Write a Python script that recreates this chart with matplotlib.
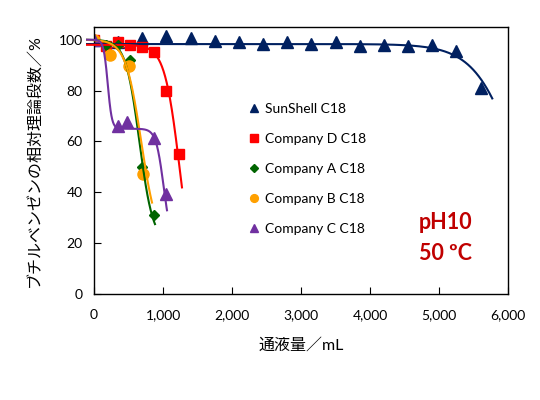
import matplotlib.pyplot as plt
import numpy as np
from matplotlib.ticker import FuncFormatter

plt.rcParams['font.family'] = ['Lato', 'Noto Sans CJK JP', 'DejaVu Sans']

# measured points (mL, % relative plate number)
sun_x = [0, 350, 700, 1050, 1400, 1750, 2100, 2450, 2800, 3150, 3500, 3850, 4200, 4550, 4900, 5250, 5600]
sun_y = [100, 99, 100.5, 101.5, 100.5, 99.5, 99, 98.5, 99, 98.5, 99, 97.5, 98, 97.5, 98, 95.5, 81]
d_x = [0, 175, 350, 525, 700, 875, 1050, 1225]
d_y = [100, 97.5, 99, 98, 97, 95, 80, 55]
a_x = [0, 175, 350, 525, 700, 875]
a_y = [100, 98, 98, 92, 50, 31]
b_x = [0, 230, 510, 710]
b_y = [100, 94, 89.5, 47]
c_x = [0, 350, 480, 870, 1050]
c_y = [100, 66, 67.5, 61.5, 39.5]

# fitted trend curves: (x start, x end, bottom, [(height, center, width), ...])
sun_fit = (-100, 5770, 0, [(98.3, 6168, 311)])
d_fit = (-100, 1275, 0, [(98, 1243, 110)])
a_fit = (-100, 884, 20, [(80, 658, 99.5)])
b_fit = (-100, 841, 20, [(80, 684, 113)])
c_fit = (-100, 1058, 20, [(35, 200, 30), (45, 1008, 55)])


def trend(fit):
    x0, x1, base, steps = fit
    x = np.linspace(x0, x1, 300)
    y = np.full_like(x, base, dtype=float)
    for h, c, w in steps:
        y += h / (1 + np.exp((x - c) / w))
    return x, y


series = [
    ("SunShell C18", sun_x, sun_y, sun_fit, "#002060", "^", 9),
    ("Company D C18", d_x, d_y, d_fit, "#FF0000", "s", 7.5),
    ("Company A C18", a_x, a_y, a_fit, "#006400", "D", 5.5),
    ("Company B C18", b_x, b_y, b_fit, "#FFA000", "o", 8),
    ("Company C C18", c_x, c_y, c_fit, "#7030A0", "^", 9),
]

fig = plt.figure(figsize=(5.4, 4), dpi=100)
ax = fig.add_axes([0.174, 0.265, 0.767, 0.6675])

for name, x, y, fit, col, mk, ms in series:
    ax.plot(x, y, linestyle="none", marker=mk, color=col, markersize=ms, label=name, zorder=2)
for name, x, y, fit, col, mk, ms in series:
    fx, fy = trend(fit)
    ax.plot(fx, fy, color=col, lw=1.5, zorder=3, clip_on=False)

ax.set_xlim(0, 6000)
ax.set_ylim(0, 105)
ax.set_xticks(np.arange(0, 6001, 1000))
ax.set_yticks(np.arange(0, 101, 20))
ax.xaxis.set_major_formatter(FuncFormatter(lambda v, p: f"{v:,.0f}"))
ax.tick_params(axis="x", direction="in", length=5, labelsize=10, pad=11)
ax.tick_params(axis="y", direction="in", length=5, labelsize=10, pad=8)
for s in ax.spines.values():
    s.set_linewidth(1.0)

ax.set_xlabel("通液量／mL", fontsize=11.5, labelpad=12)
ax.set_ylabel("ブチルベンゼンの相対理論段数／%", fontsize=11.5, labelpad=12)

leg = ax.legend(loc="upper left", bbox_to_anchor=(0.346, 0.764), frameon=False,
                fontsize=10, markerscale=0.7, handlelength=0.6,
                handletextpad=0.5, labelspacing=1.3)

ax.text(0.785, 0.21, "pH10\n50 ºC", transform=ax.transAxes, color="#C00000",
        fontsize=15.5, fontweight="bold", linespacing=1.55, va="center")

fig.savefig("out.png", dpi=100)
